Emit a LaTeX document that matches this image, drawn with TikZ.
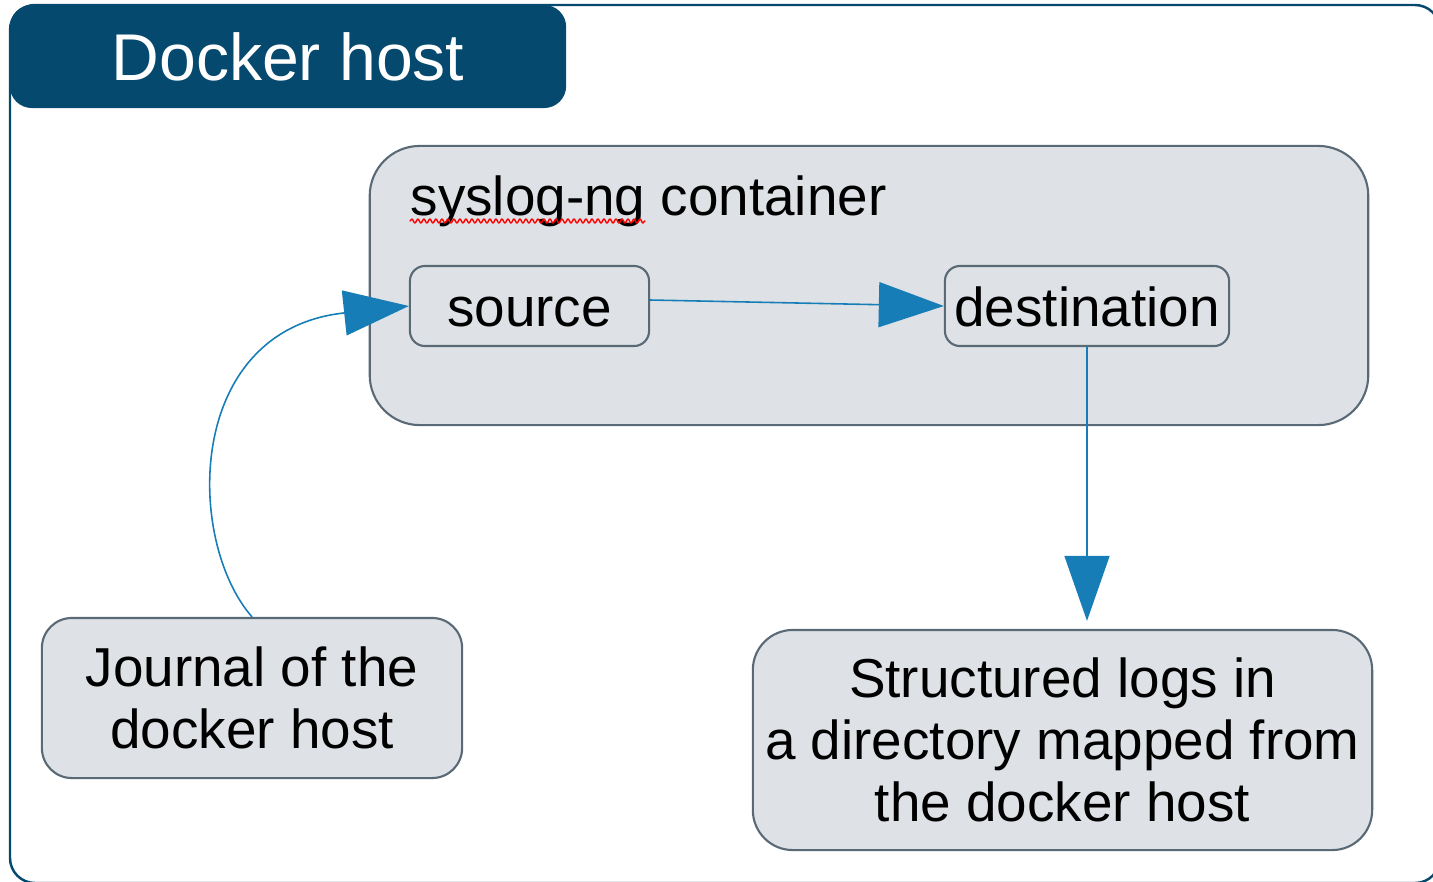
\documentclass[tikz,border=0pt]{standalone}
\usepackage{fontspec}
\setmainfont{Liberation Sans}
\usetikzlibrary{arrows.meta,decorations.pathmorphing}
\definecolor{hostblue}{RGB}{5,73,110}
\definecolor{boxgray}{RGB}{222,226,230}
\definecolor{boxline}{RGB}{90,105,118}
\definecolor{flowblue}{RGB}{22,125,182}
\tikzset{
  box/.style={draw=boxline, fill=boxgray, line width=0.6pt, rounded corners=0.15cm, align=center, inner sep=0pt},
  flow/.style={draw=flowblue, line width=0.45pt, -{Triangle[length=0.65cm,width=0.45cm]}},
}
\begin{document}
\begin{tikzpicture}[x=0.01cm, y=-0.01cm, font=\fontsize{15.6}{17.6}\selectfont, line join=round, line cap=round]
	\useasboundingbox (0,0) rectangle (1433,881);
	% Rahmen des Hosts
	\begin{scope}
		\clip (0,0) rectangle (1433,881);
		\draw[hostblue, line width=0.7pt, rounded corners=0.25cm] (10,5) rectangle (1440,883);
	\end{scope}
	\node[fill=hostblue, rounded corners=0.22cm, minimum width=5.56cm, minimum height=1.03cm, text=white, font=\fontsize{18.8}{20}\selectfont] (host) at (288,56.5) {Docker host};
	% Container
	\node[box, rounded corners=0.5cm, minimum width=9.98cm, minimum height=2.79cm] (container) at (869,285.5) {};
	\node[anchor=base west, inner sep=0pt] (title) at (410,215) {syslog-ng container};
	\draw[red, line width=0.4pt, decorate, decoration={snake, amplitude=0.02cm, segment length=0.06cm}] ([yshift=-0.06cm]title.base west) -- +(235,0);
	\node[box, minimum width=2.39cm, minimum height=0.8cm, text height=0.5cm, text depth=0.1cm] (source) at (529.5,306) {source};
	\node[box, minimum width=2.84cm, minimum height=0.8cm, text height=0.5cm, text depth=0.1cm] (destination) at (1087,306) {destination};
	% Quelle und Ziel
	\node[box, rounded corners=0.3cm, minimum width=4.2cm, minimum height=1.6cm] (journal) at (252,698) {Journal of the\\ docker host};
	\node[box, rounded corners=0.4cm, minimum width=6.19cm, minimum height=2.2cm] (logs) at (1062.5,740) {Structured logs in\\ a directory mapped from\\ the docker host};
	% Pfeile
	\draw[flow] (journal.north) .. controls (185,540) and (185,330) .. (source.west);
	\draw[flow] ([yshift=0.06cm]source.east) -- (destination.west);
	\draw[flow, shorten >=0.08cm] (destination.south) -- (destination.south |- logs.north);
\end{tikzpicture}
\end{document}
